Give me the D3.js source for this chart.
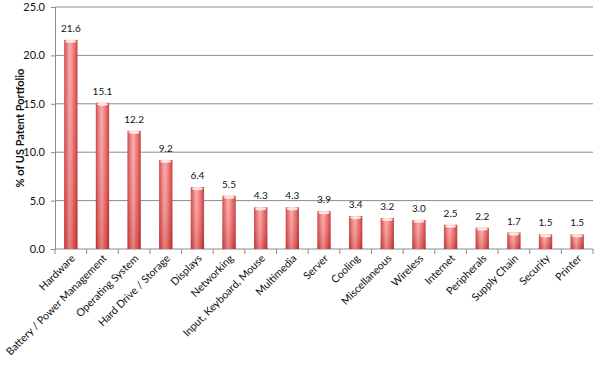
<!DOCTYPE html>
<html>
<head>
<meta charset="utf-8">
<script src="https://cdn.jsdelivr.net/npm/d3@7"></script>
<style>
  body { margin: 0; background: #fff; }
  text { font-family: Lato, "Open Sans", sans-serif; }
</style>
</head>
<body>
<div id="chart"></div>
<script>
var categories = ["Hardware", "Battery / Power Management", "Operating System", "Hard Drive / Storage",
    "Displays", "Networking", "Input, Keyboard, Mouse", "Multimedia", "Server", "Cooling",
    "Miscellaneous", "Wireless", "Internet", "Peripherals", "Supply Chain", "Security", "Printer"];
var shares = [21.6, 15.1, 12.2, 9.2, 6.4, 5.5, 4.3, 4.3, 3.9, 3.4, 3.2, 3.0, 2.5, 2.2, 1.7, 1.5, 1.5];
var yTicks = [0, 5, 10, 15, 20, 25];

var margin = {top: 7, right: 8, bottom: 122, left: 55};
var width = 601 - margin.left - margin.right;
var height = 371 - margin.top - margin.bottom;

var svg = d3.select("#chart").append("svg")
    .attr("width", 601)
    .attr("height", 371);

var defs = svg.append("defs");
var grad = defs.append("linearGradient").attr("id", "barGrad")
    .attr("x1", "0%").attr("x2", "100%").attr("y1", "0%").attr("y2", "0%");
grad.append("stop").attr("offset", "0%").attr("stop-color", "#c43a3c");
grad.append("stop").attr("offset", "30%").attr("stop-color", "#f58a8a");
grad.append("stop").attr("offset", "45%").attr("stop-color", "#fda2a0");
grad.append("stop").attr("offset", "80%").attr("stop-color", "#e25a5b");
grad.append("stop").attr("offset", "100%").attr("stop-color", "#b8302f");

var shade = defs.append("linearGradient").attr("id", "shadeGrad")
    .attr("x1", "0%").attr("x2", "0%").attr("y1", "0%").attr("y2", "100%");
shade.append("stop").attr("offset", "0%").attr("stop-color", "#fff").attr("stop-opacity", 0.1);
shade.append("stop").attr("offset", "100%").attr("stop-color", "#a01010").attr("stop-opacity", 0.25);

var root = svg.append("g")
    .attr("transform", "translate(" + margin.left + "," + margin.top + ")");

var x = d3.scaleBand().domain(categories).range([0, width]).paddingInner(0.58).paddingOuter(0.29);
var y = d3.scaleLinear().domain([0, 25]).range([height, 0]);

// gridlines
root.selectAll(".grid").data(yTicks.slice(1)).enter().append("line")
    .attr("x1", 0).attr("x2", width)
    .attr("y1", function(d) { return y(d); })
    .attr("y2", function(d) { return y(d); })
    .attr("stroke", "#8c8c8c").attr("stroke-width", 1);

// y axis
var yAxis = root.append("g")
    .call(d3.axisLeft(y).tickValues(yTicks).tickFormat(d3.format(".1f")).tickSize(4).tickPadding(6));
yAxis.select(".domain").attr("stroke", "#8c8c8c");
yAxis.selectAll(".tick line").attr("stroke", "#8c8c8c");
yAxis.selectAll("text").attr("font-size", 11).attr("fill", "#111");

// x axis with ticks between categories
var xAxisG = root.append("g").attr("transform", "translate(0," + height + ")");
xAxisG.append("line").attr("x1", 0).attr("x2", width).attr("stroke", "#8c8c8c");
var step = x.step();
var bounds = d3.range(categories.length + 1);
xAxisG.selectAll(".xt").data(bounds).enter().append("line")
    .attr("x1", function(i) { return i * step; })
    .attr("x2", function(i) { return i * step; })
    .attr("y1", 0).attr("y2", 5)
    .attr("stroke", "#8c8c8c");

xAxisG.selectAll(".xl").data(categories).enter().append("text")
    .attr("transform", function(d) {
        return "translate(" + (x(d) + x.bandwidth() / 2 + 5) + ",10) rotate(-45)";
    })
    .attr("text-anchor", "end")
    .attr("font-size", 10.6)
    .attr("fill", "#111")
    .text(function(d) { return d; });

// bars
var bars = root.selectAll(".bar").data(shares).enter().append("g");
bars.append("rect")
    .attr("x", function(d, i) { return x(categories[i]); })
    .attr("y", function(d) { return y(d); })
    .attr("width", x.bandwidth())
    .attr("height", function(d) { return height - y(d); })
    .attr("fill", "url(#barGrad)");
bars.append("rect")
    .attr("x", function(d, i) { return x(categories[i]); })
    .attr("y", function(d) { return y(d); })
    .attr("width", x.bandwidth())
    .attr("height", function(d) { return height - y(d); })
    .attr("fill", "url(#shadeGrad)");
bars.append("ellipse")
    .attr("cx", function(d, i) { return x(categories[i]) + x.bandwidth() / 2; })
    .attr("cy", function(d) { return y(d) + 1.5; })
    .attr("rx", x.bandwidth() / 2 - 1)
    .attr("ry", 1.6)
    .attr("fill", "#ffe4e2");

// value labels
root.selectAll(".val").data(shares).enter().append("text")
    .attr("x", function(d, i) { return x(categories[i]) + x.bandwidth() / 2; })
    .attr("y", function(d) { return y(d) - 8; })
    .attr("text-anchor", "middle")
    .attr("font-size", 10)
    .attr("fill", "#111")
    .text(function(d) { return d.toFixed(1); });

// y title
svg.append("text")
    .attr("transform", "translate(24," + (margin.top + height / 2) + ") rotate(-90)")
    .attr("text-anchor", "middle")
    .attr("font-size", 11)
    .attr("font-weight", "bold")
    .attr("fill", "#111")
    .text("% of US Patent Portfolio");
</script>
</body>
</html>
